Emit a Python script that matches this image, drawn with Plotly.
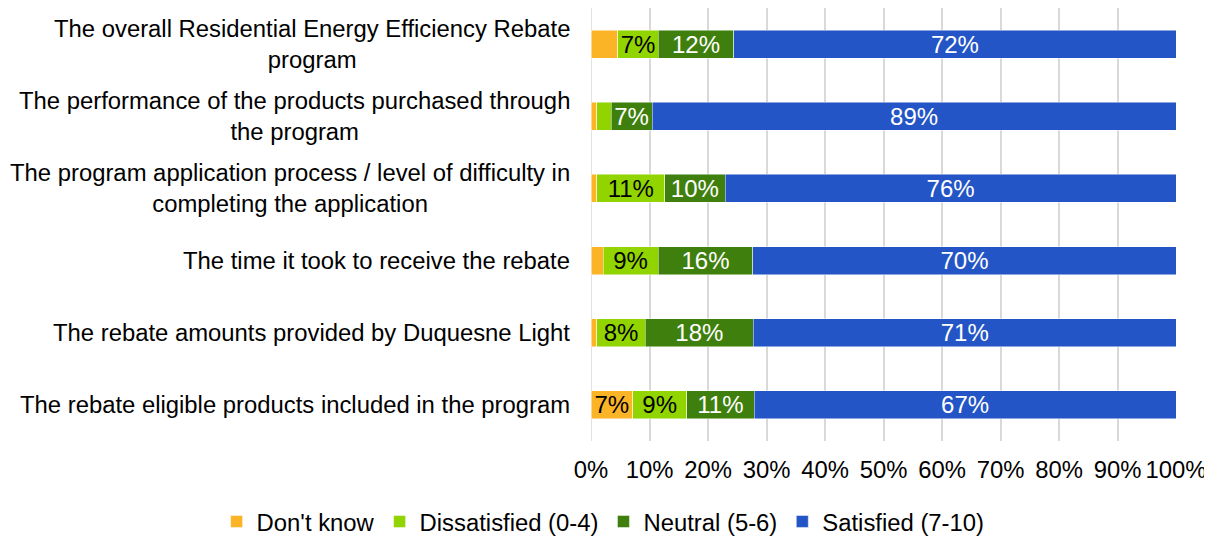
import plotly.graph_objects as go

categories = [
    "The overall Residential Energy Efficiency Rebate<br>program",
    "The performance of the products purchased through<br>the program",
    "The program application process / level of difficulty in<br>completing the application",
    "The time it took to receive the rebate",
    "The rebate amounts provided by Duquesne Light",
    "The rebate eligible products included in the program",
]
dont_know = [4.4, 1.0, 1.0, 2.0, 1.0, 6.6]
dissatisfied = [6.6, 2.4, 11.4, 9.1, 8.1, 8.6]
neutral = [12.4, 7.0, 10.2, 15.7, 18.2, 10.7]
satisfied = [72.4, 89.0, 76.0, 70.0, 71.0, 67.0]

series = [
    ("Don't know", dont_know, "#FBB426", "black"),
    ("Dissatisfied (0-4)", dissatisfied, "#92D400", "black"),
    ("Neutral (5-6)", neutral, "#3F7F0E", "white"),
    ("Satisfied (7-10)", satisfied, "#2455C6", "white"),
]

FONT = "Liberation Sans, Arial, sans-serif"
FS = 24
LFS = 23.85

fig = go.Figure()
for name, vals, color, tcolor in series:
    fig.add_trace(go.Bar(
        y=categories, x=vals, name=name, orientation="h",
        marker=dict(color=color, line=dict(color="rgba(255,255,255,0.6)", width=0.8)),
        text=[f"{round(v)}%" if v >= 5 else "" for v in vals],
        textposition="inside", insidetextanchor="middle", constraintext="none",
        textfont=dict(family=FONT, size=FS, color=tcolor),
        cliponaxis=False,
    ))

for c in categories:
    fig.add_annotation(
        x=0, xref="paper", y=c, yref="y", xanchor="right", xshift=-19,
        text=c, showarrow=False, align="center",
        font=dict(family=FONT, size=LFS, color="#000000"),
    )

fig.update_layout(
    barmode="stack", barnorm="percent", bargap=0.61,
    width=1212, height=538,
    margin=dict(l=583, r=44, t=0, b=105),
    paper_bgcolor="white", plot_bgcolor="white",
    font=dict(family=FONT, size=FS, color="#000000"),
    legend=dict(orientation="h", x=-0.64, xanchor="left", y=-0.187, yanchor="middle",
                font=dict(family=FONT, size=LFS), traceorder="normal",
                itemwidth=30),
    showlegend=True,
)
fig.update_xaxes(range=[0, 100], dtick=10, ticksuffix="%", showgrid=True,
                 gridcolor="#D9D9D9", gridwidth=1.5, zeroline=False,
                 showline=False, ticks="", ticklabelstandoff=12,
                 tickfont=dict(family=FONT, size=LFS))
fig.update_yaxes(autorange="reversed", showticklabels=False, showgrid=False,
                 zeroline=False, showline=False, ticks="")
fig.add_vline(x=0, line_color="#D9D9D9", line_width=1.5, layer="below")

fig.write_html("out.html")
